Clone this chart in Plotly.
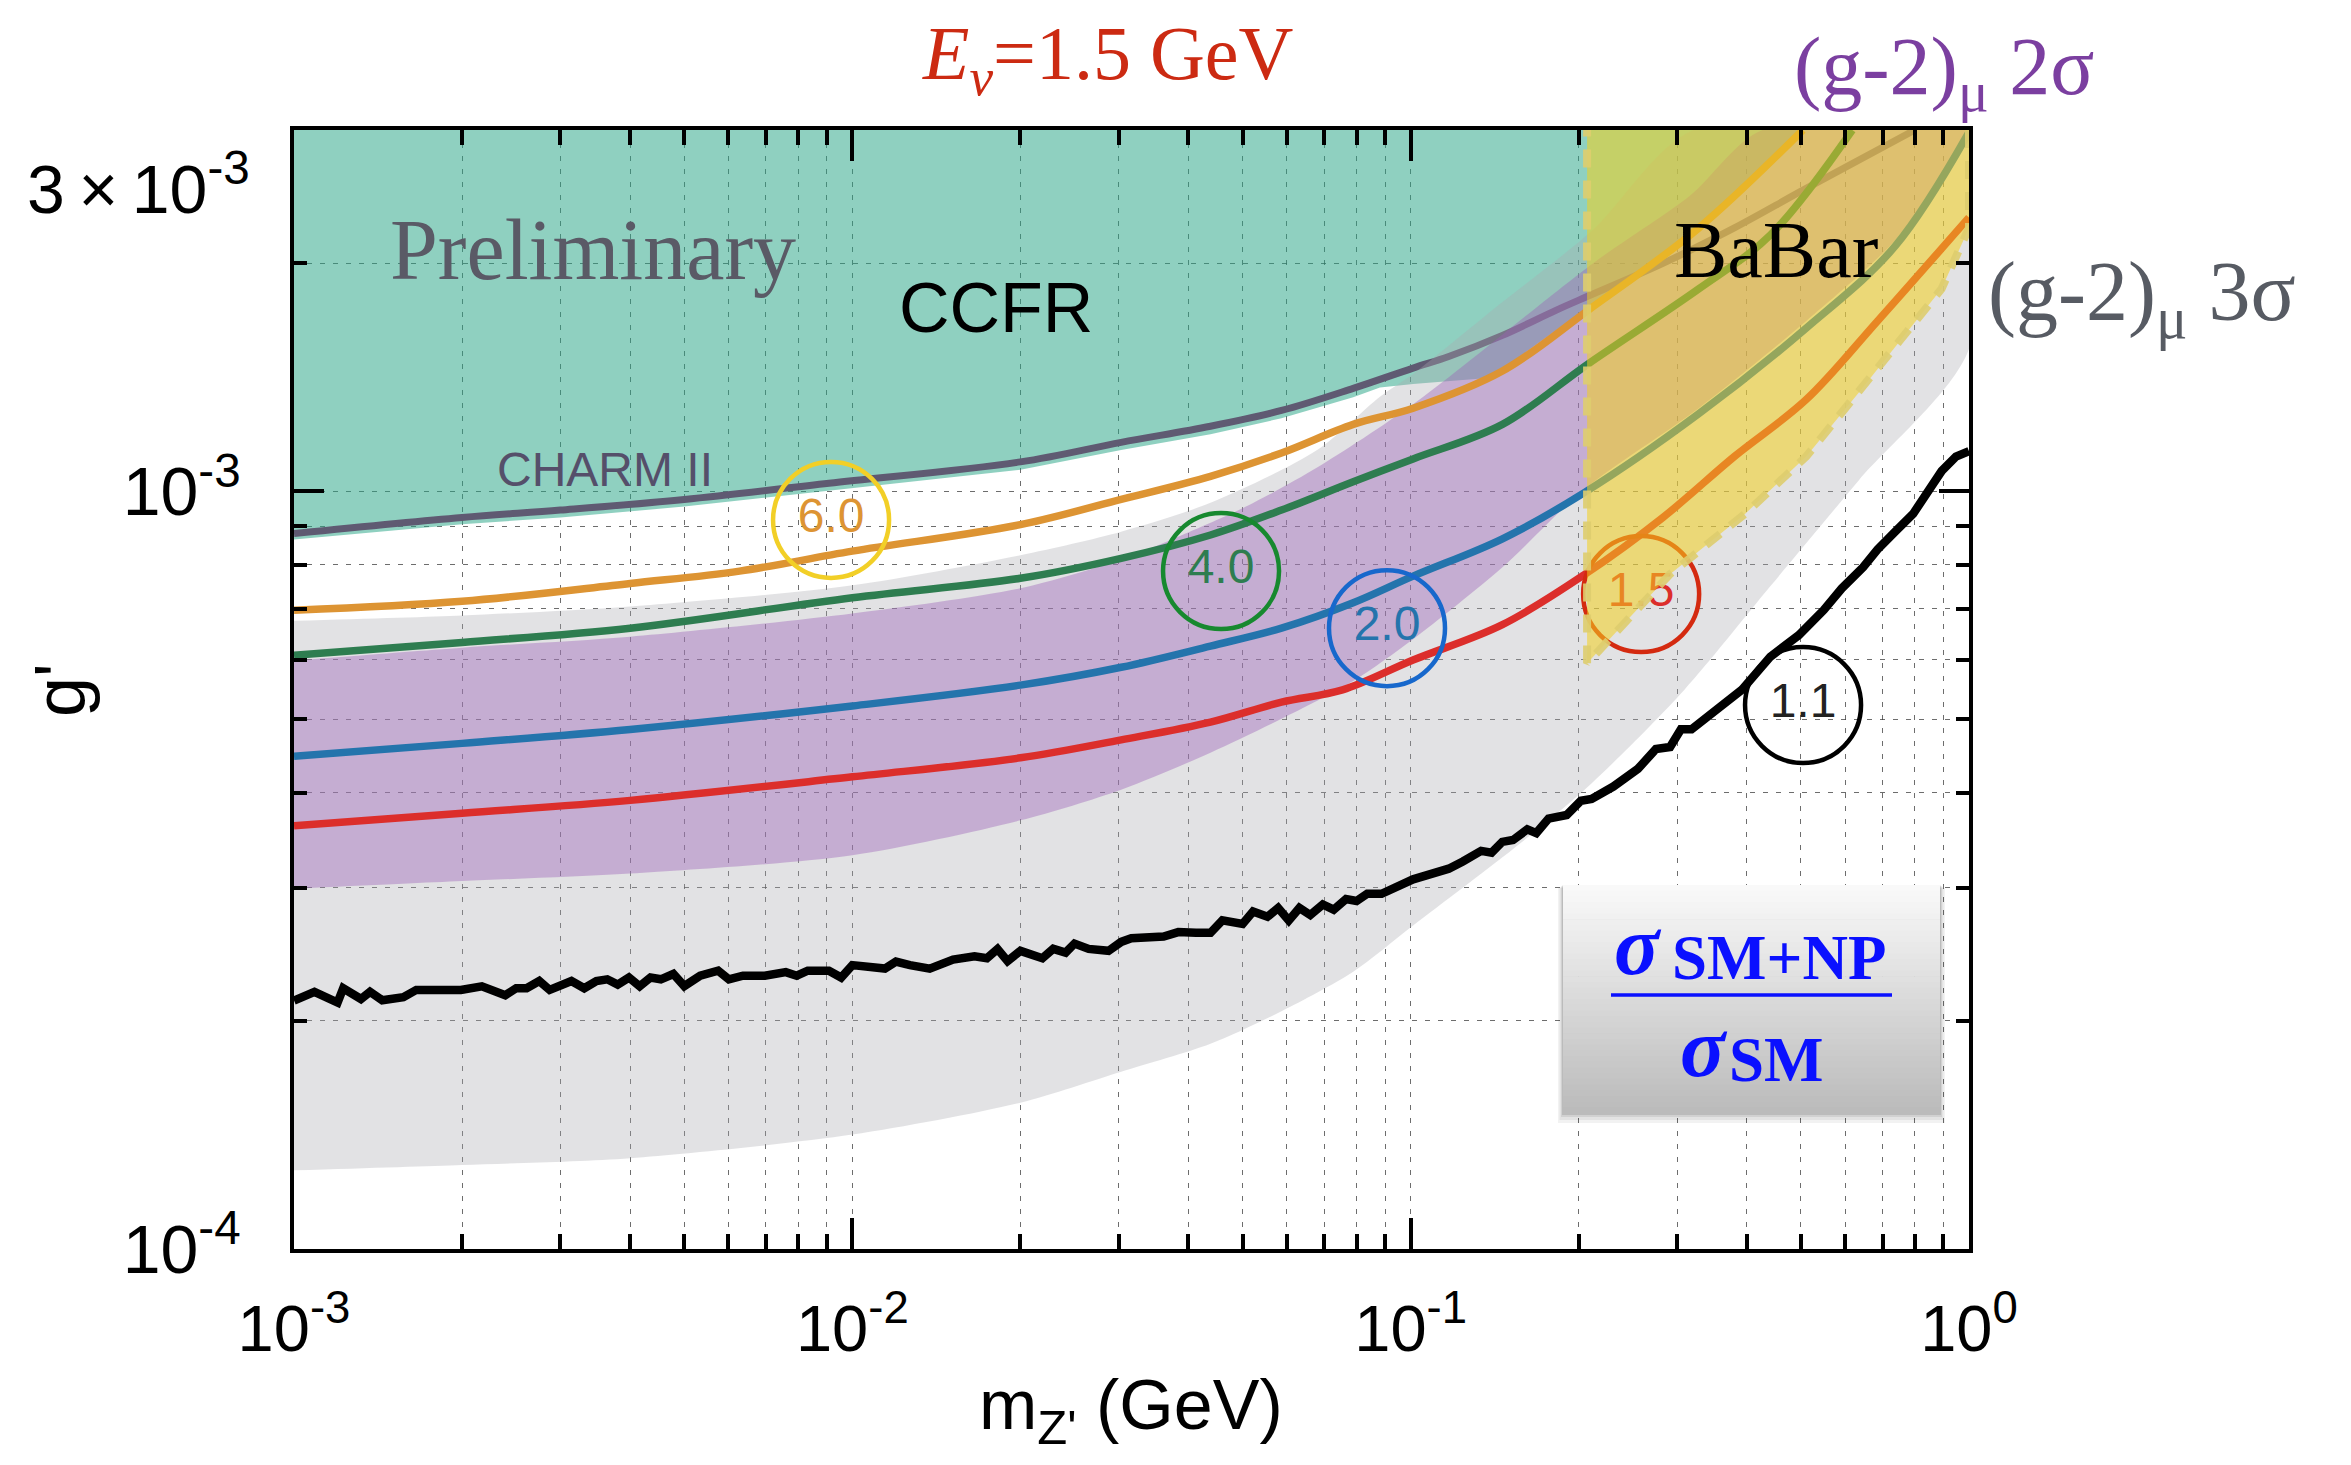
import math
import plotly.graph_objects as go

# ---------------------------------------------------------------- data
X_TICKS = [1e-3, 1e-2, 1e-1, 1.0]
X_TICK_TEXT = ["10<sup>-3</sup>", "10<sup>-2</sup>", "10<sup>-1</sup>", "10<sup>0</sup>"]
X_MINOR = [2e-3, 3e-3, 4e-3, 5e-3, 6e-3, 7e-3, 8e-3, 9e-3,
           2e-2, 3e-2, 4e-2, 5e-2, 6e-2, 7e-2, 8e-2, 9e-2,
           0.2, 0.3, 0.4, 0.5, 0.6, 0.7, 0.8, 0.9]
Y_TICKS = [1e-4, 1e-3, 3e-3]
Y_TICK_TEXT = ["10<sup>-4</sup>", "10<sup>-3</sup>", " "]
Y_TOP_LABEL = "3\u2009×\u200910<sup>-3</sup>"
Y_MINOR = [2e-4, 3e-4, 4e-4, 5e-4, 6e-4, 7e-4, 8e-4, 9e-4, 2e-3]
G_TOP = 3e-3
M_MIN, M_MAX = 1e-3, 1.0

# CHARM II limit (m_Z' [GeV], g')
CHARM_II = [(1e-3, 8.80e-4), (2e-3, 9.24e-4), (3e-3, 9.45e-4), (5e-3, 9.76e-4),
            (9.08e-3, 1.025e-3), (2.0e-2, 1.094e-3), (3.03e-2, 1.161e-3),
            (4.38e-2, 1.219e-3), (5.87e-2, 1.279e-3), (7.89e-2, 1.368e-3),
            (0.101, 1.455e-3), (0.117, 1.507e-3), (0.146, 1.607e-3), (0.182, 1.734e-3),
            (0.208, 1.811e-3), (0.283, 2.0e-3), (0.380, 2.228e-3), (0.511, 2.512e-3),
            (0.80, 3.0e-3)]
# CCFR excluded region, lower edge
CCFR = [(1e-3, 8.64e-4), (2e-3, 9.05e-4), (3e-3, 9.24e-4), (5e-3, 9.55e-4),
        (1e-2, 1.010e-3), (2e-2, 1.068e-3), (3.03e-2, 1.134e-3), (4.38e-2, 1.190e-3),
        (5.87e-2, 1.249e-3), (7.89e-2, 1.331e-3), (8.81e-2, 1.372e-3), (0.101, 1.386e-3),
        (0.134, 1.410e-3), (0.146, 1.452e-3), (0.208, 1.750e-3), (0.328, 2.244e-3),
        (0.50, 3.0e-3)]
# (g-2)_mu 3 sigma band
G2_3S_UP = [(1e-3, 6.75e-4), (2e-3, 6.86e-4), (4e-3, 7.05e-4), (1e-2, 7.52e-4),
            (2e-2, 8.24e-4), (3.03e-2, 8.85e-4), (4.38e-2, 9.66e-4), (6.81e-2, 1.135e-3),
            (8.81e-2, 1.334e-3), (0.101, 1.429e-3), (0.146, 1.778e-3), (0.212, 2.213e-3),
            (0.321, 3.0e-3)]
G2_3S_LO = [(1e-3, 1.27e-4), (2e-3, 1.291e-4), (4e-3, 1.318e-4), (1e-2, 1.416e-4),
            (2e-2, 1.56e-4), (3.03e-2, 1.714e-4), (4.38e-2, 1.866e-4), (5.87e-2, 2.06e-4),
            (7.89e-2, 2.323e-4), (0.101, 2.673e-4), (0.157, 3.43e-4), (0.211, 4.12e-4),
            (0.309, 5.47e-4), (0.441, 7.50e-4), (0.635, 1.035e-3), (1.0, 1.542e-3)]
# (g-2)_mu 2 sigma band
G2_2S_UP = [(1e-3, 5.98e-4), (2e-3, 6.22e-4), (4e-3, 6.43e-4), (1e-2, 6.90e-4),
            (2e-2, 7.45e-4), (3.03e-2, 8.13e-4), (3.77e-2, 8.67e-4), (5.07e-2, 9.55e-4),
            (6.81e-2, 1.076e-3), (0.101, 1.303e-3), (0.212, 2.0e-3), (0.316, 2.455e-3),
            (0.427, 3.0e-3)]
G2_2S_LO = [(1e-3, 2.99e-4), (2e-3, 3.06e-4), (4e-3, 3.13e-4), (1e-2, 3.31e-4),
            (2e-2, 3.68e-4), (3.03e-2, 4.04e-4), (4.38e-2, 4.52e-4), (5.87e-2, 5.01e-4),
            (7.89e-2, 5.62e-4), (0.101, 6.38e-4), (0.146, 7.94e-4), (0.205, 1.008e-3),
            (0.328, 1.288e-3), (0.511, 1.679e-3), (0.738, 2.148e-3), (1.0, 2.951e-3)]
# BaBar excluded region, lower edge
BABAR = [(0.207, 5.93e-4), (0.291, 7.77e-4), (0.397, 9.34e-4), (0.511, 1.112e-3),
         (0.635, 1.351e-3), (0.794, 1.661e-3), (0.893, 1.851e-3), (1.0, 2.228e-3)]
BABAR_LEFT = 0.207

# contours of sigma_SM+NP / sigma_SM
R60 = [(1e-3, 6.97e-4), (2e-3, 7.16e-4), (4e-3, 7.56e-4), (6.28e-3, 7.85e-4), (1e-2, 8.34e-4),
       (2e-2, 9.04e-4), (3.03e-2, 9.76e-4), (4.38e-2, 1.047e-3), (5.87e-2, 1.124e-3),
       (7.89e-2, 1.226e-3), (0.101, 1.288e-3), (0.146, 1.442e-3), (0.208, 1.735e-3),
       (0.328, 2.227e-3), (0.504, 3.0e-3)]
R40 = [(1e-3, 6.08e-4), (2e-3, 6.32e-4), (4e-3, 6.60e-4), (1e-2, 7.24e-4), (2e-2, 7.68e-4),
       (3.03e-2, 8.16e-4), (4.38e-2, 8.76e-4), (5.87e-2, 9.45e-4), (7.89e-2, 1.030e-3),
       (0.101, 1.104e-3), (0.146, 1.226e-3), (0.208, 1.474e-3), (0.328, 1.851e-3),
       (0.441, 2.181e-3), (0.618, 3.0e-3)]
R20 = [(1e-3, 4.47e-4), (2e-3, 4.65e-4), (4e-3, 4.85e-4), (1e-2, 5.21e-4), (2e-2, 5.55e-4),
       (3.03e-2, 5.86e-4), (4.38e-2, 6.25e-4), (5.87e-2, 6.60e-4), (7.89e-2, 7.13e-4),
       (0.101, 7.73e-4), (0.146, 8.66e-4), (0.205, 9.97e-4), (0.328, 1.266e-3),
       (0.511, 1.643e-3), (0.738, 2.109e-3), (1.0, 2.98e-3)]
R15 = [(1e-3, 3.62e-4), (2e-3, 3.76e-4), (4e-3, 3.91e-4), (1e-2, 4.20e-4), (2e-2, 4.45e-4),
       (3.03e-2, 4.70e-4), (4.38e-2, 4.96e-4), (5.87e-2, 5.27e-4), (7.55e-2, 5.47e-4),
       (0.101, 5.99e-4), (0.146, 6.67e-4), (0.205, 7.77e-4), (0.283, 9.24e-4),
       (0.380, 1.112e-3), (0.511, 1.322e-3), (0.686, 1.679e-3), (1.0, 2.30e-3)]
R11 = [(1.0e-3, 2.128e-4), (1.088e-3, 2.185e-4), (1.197e-3, 2.115e-4), (1.225e-3, 2.209e-4),
       (1.318e-3, 2.138e-4), (1.368e-3, 2.185e-4), (1.439e-3, 2.13e-4), (1.57e-3, 2.15e-4),
       (1.656e-3, 2.198e-4), (1.99e-3, 2.198e-4), (2.17e-3, 2.222e-4), (2.39e-3, 2.163e-4),
       (2.50e-3, 2.209e-4), (2.61e-3, 2.209e-4), (2.75e-3, 2.258e-4), (2.87e-3, 2.198e-4),
       (3.14e-3, 2.258e-4), (3.31e-3, 2.209e-4), (3.48e-3, 2.258e-4), (3.64e-3, 2.27e-4),
       (3.80e-3, 2.234e-4), (3.98e-3, 2.282e-4), (4.16e-3, 2.222e-4), (4.35e-3, 2.282e-4),
       (4.54e-3, 2.27e-4), (4.78e-3, 2.307e-4), (5.0e-3, 2.223e-4), (5.34e-3, 2.295e-4),
       (5.75e-3, 2.33e-4), (6.01e-3, 2.27e-4), (6.37e-3, 2.295e-4), (6.97e-3, 2.295e-4),
       (7.6e-3, 2.32e-4), (7.95e-3, 2.295e-4), (8.32e-3, 2.33e-4), (9.08e-3, 2.33e-4),
       (9.55e-3, 2.282e-4), (1.0e-2, 2.37e-4), (1.144e-2, 2.345e-4), (1.197e-2, 2.395e-4),
       (1.268e-2, 2.37e-4), (1.376e-2, 2.345e-4), (1.515e-2, 2.41e-4), (1.655e-2, 2.435e-4),
       (1.742e-2, 2.42e-4), (1.82e-2, 2.489e-4), (1.897e-2, 2.399e-4), (2.0e-2, 2.475e-4),
       (2.19e-2, 2.42e-4), (2.29e-2, 2.49e-4), (2.41e-2, 2.462e-4), (2.5e-2, 2.53e-4),
       (2.65e-2, 2.49e-4), (2.876e-2, 2.475e-4), (3.03e-2, 2.543e-4), (3.16e-2, 2.571e-4),
       (3.61e-2, 2.585e-4), (3.835e-2, 2.62e-4), (4.125e-2, 2.614e-4), (4.38e-2, 2.614e-4),
       (4.6e-2, 2.715e-4), (5.0e-2, 2.686e-4), (5.22e-2, 2.79e-4), (5.54e-2, 2.745e-4),
       (5.79e-2, 2.82e-4), (6.05e-2, 2.715e-4), (6.32e-2, 2.82e-4), (6.61e-2, 2.76e-4),
       (6.96e-2, 2.85e-4), (7.28e-2, 2.805e-4), (7.66e-2, 2.897e-4), (8.0e-2, 2.88e-4),
       (8.36e-2, 2.944e-4), (8.87e-2, 2.944e-4), (0.101, 3.076e-4), (0.117, 3.177e-4),
       (0.124, 3.248e-4), (0.1337, 3.354e-4), (0.1396, 3.336e-4), (0.1459, 3.447e-4),
       (0.1525, 3.466e-4), (0.1618, 3.581e-4), (0.1679, 3.54e-4), (0.1766, 3.70e-4),
       (0.1903, 3.74e-4), (0.2018, 3.905e-4), (0.2109, 3.927e-4), (0.2307, 4.078e-4),
       (0.2554, 4.305e-4), (0.2749, 4.57e-4), (0.2915, 4.598e-4), (0.3048, 4.853e-4),
       (0.3185, 4.853e-4), (0.3428, 5.07e-4), (0.364, 5.236e-4), (0.3917, 5.47e-4),
       (0.4406, 6.05e-4), (0.4955, 6.46e-4), (0.5495, 6.975e-4), (0.5916, 7.447e-4),
       (0.6463, 7.943e-4), (0.6855, 8.383e-4), (0.7379, 8.851e-4), (0.7943, 9.343e-4),
       (0.8424, 9.972e-4), (0.8933, 1.064e-3), (0.9478, 1.112e-3), (1.0, 1.13e-3)]

RATIO_TEXT = ["6.0", "4.0", "2.0", "1.5", "1.1"]
RATIO_M = [9.16e-3, 4.575e-2, 9.07e-2, 0.2587, 0.5044]
RATIO_G = [9.17e-4, 7.85e-4, 6.60e-4, 7.32e-4, 5.224e-4]

# ---------------------------------------------------------------- styles
W, H = 2351, 1465          # browser window
OFF = 8                    # default body margin of the html page
FW, FH = W - 2 * OFF, H - 2 * OFF
PL, PR, PT, PB = 294, 1969, 130, 1249   # plot area in page pixels
SERIF = "Liberation Serif, Times New Roman, serif"
SANS = "Liberation Sans, Arial, Helvetica, sans-serif"
LINE_COLORS = ["#dd9433", "#2e7d50", "#2474ac", "#dc2e2b", "#000000"]
CIRCLE_COLORS = ["#f2cf27", "#17892f", "#1768cc", "#d42a10", "#000000"]
TEXT_COLORS = ["#dd9433", "#2e7d50", "#2474ac", "#dc2e2b", "#222222"]
GRID = dict(showgrid=True, gridcolor="rgba(60,60,60,0.75)", gridwidth=1.2, griddash="5px,8px")


def xs(p):
    return [a for a, _ in p]


def ys(p):
    return [b for _, b in p]


def px(X):
    return (X - PL) / (PR - PL)


def py(Y):
    return (PB - Y) / (PB - PT)


fig = go.Figure()


def fill(xv, yv, color, shape="spline"):
    fig.add_trace(go.Scatter(x=xv, y=yv, mode="lines", fill="toself", fillcolor=color,
                             line=dict(width=0, shape=shape, smoothing=0.8),
                             hoverinfo="skip", showlegend=False))


def curve(p, color, width, shape="spline"):
    fig.add_trace(go.Scatter(x=xs(p), y=ys(p), mode="lines",
                             line=dict(color=color, width=width, shape=shape, smoothing=1.0),
                             hoverinfo="skip", showlegend=False))


# CCFR
fill([M_MIN] + xs(CCFR), [G_TOP] + ys(CCFR), "rgba(40,165,134,0.52)", shape="linear")
# CHARM II
curve(CHARM_II, "#5f5a72", 7)
# (g-2) bands
fill(xs(G2_3S_UP) + [M_MAX] + xs(G2_3S_LO)[::-1],
     ys(G2_3S_UP) + [G_TOP] + ys(G2_3S_LO)[::-1], "rgba(170,170,176,0.34)")
fill(xs(G2_2S_UP) + [M_MAX] + xs(G2_2S_LO)[::-1],
     ys(G2_2S_UP) + [G_TOP] + ys(G2_2S_LO)[::-1], "rgba(156,96,183,0.40)")
# ratio contours
for pts, col in zip([R60, R40, R20, R15], LINE_COLORS[:4]):
    curve(pts, col, 7.5)
curve(R11, LINE_COLORS[4], 8.5, shape="linear")
# circled labels
for i in range(len(RATIO_TEXT)):
    fig.add_trace(go.Scatter(
        x=[RATIO_M[i]], y=[RATIO_G[i]], mode="markers+text", text=[RATIO_TEXT[i]],
        textposition="middle center",
        textfont=dict(family=SANS, size=48, color=TEXT_COLORS[i]),
        marker=dict(symbol="circle-open", size=116, color=CIRCLE_COLORS[i],
                    line=dict(width=4.5, color=CIRCLE_COLORS[i])),
        hoverinfo="skip", showlegend=False))
# BaBar
fill([BABAR_LEFT] + xs(BABAR) + [M_MAX], [G_TOP] + ys(BABAR) + [G_TOP],
     "rgba(243,207,30,0.55)", shape="linear")
fig.add_trace(go.Scatter(x=[M_MAX] + xs(BABAR)[::-1] + [BABAR_LEFT],
                         y=[G_TOP] + ys(BABAR)[::-1] + [G_TOP], mode="lines",
                         line=dict(color="rgba(222,205,110,0.9)", width=8, dash="18px,13px"),
                         hoverinfo="skip", showlegend=False))

# ---------------------------------------------------------------- inset box
shapes = []
bx0, bx1, by0, by1 = 1563, 1940, 885, 1113
for k, a in [(10, 0.05), (7, 0.06), (4, 0.08), (2, 0.10)]:
    shapes.append(dict(type="rect", xref="paper", yref="paper", layer="above",
                       x0=px(bx0 - k * 0.5), x1=px(bx1 + k * 0.5), y0=py(by1 + k), y1=py(by0 + k * 0.3),
                       line=dict(width=0), fillcolor=f"rgba(0,0,0,{a})"))
N = 40
for i in range(N):
    t = i / (N - 1)
    c = int(round(249 - t * (249 - 187)))
    y0 = by0 + (by1 - by0) * i / N
    y1 = by0 + (by1 - by0) * (i + 1) / N + 0.6
    shapes.append(dict(type="rect", xref="paper", yref="paper", layer="above",
                       x0=px(bx0), x1=px(bx1), y0=py(min(y1, by1)), y1=py(y0),
                       line=dict(width=0), fillcolor=f"rgb({c},{c},{c})"))
shapes.append(dict(type="line", xref="paper", yref="paper", layer="above",
                   x0=px(1611), x1=px(1892), y0=py(995), y1=py(995),
                   line=dict(color="#0a10ff", width=3.5)))

# ---------------------------------------------------------------- annotations
ann = []


def label(text, X, Y, size, color, family, angle=0, xanchor="center", yanchor="middle"):
    ann.append(dict(text=text, x=px(X), y=py(Y), xref="paper", yref="paper",
                    xanchor=xanchor, yanchor=yanchor, showarrow=False, textangle=angle,
                    font=dict(size=size, color=color, family=family)))


label("<i>E</i><sub><i>ν</i></sub>=1.5 GeV", 1108, 9, 76, "#cc2a12", SERIF, yanchor="top")
label("(g-2)<sub>μ</sub> 2σ", 1944, 72, 82, "#7b3fa0", SERIF)
label("(g-2)<sub>μ</sub> 3σ", 2142, 298, 84, "#575b63", SERIF)
label("Preliminary", 593, 250, 86, "#5a5a66", SERIF)
label("CCFR", 996, 308, 70, "#000000", SANS)
label("BaBar", 1776, 250, 80, "#000000", SERIF)
label("CHARM II", 605, 469, 48, "#554f6a", SANS)
label("m<sub>Z'</sub> (GeV)", 1131, 1410, 70, "#000000", SANS)
label("g'", 60, 690, 72, "#000000", SANS, angle=-90)
label(Y_TOP_LABEL, 252, 184, 68, "#000000", SANS, xanchor="right")
label("<b><i>σ</i></b>", 1638, 945, 84, "#0a10ff", SERIF)
label("<b>SM+NP</b>", 1779, 958, 63, "#0a10ff", SERIF)
label("<b><i>σ</i></b>", 1704, 1047, 84, "#0a10ff", SERIF)
label("<b>SM</b>", 1776, 1060, 63, "#0a10ff", SERIF)

axis_common = dict(type="log", showline=True, linecolor="black", linewidth=3.5, mirror="ticks",
                   ticks="inside", tickwidth=3.5, tickcolor="black", zeroline=False, **GRID)

fig.update_layout(
    width=FW, height=FH, autosize=False,
    margin=dict(l=PL - OFF, r=(OFF + FW) - PR, t=PT - OFF, b=(OFF + FH) - PB, pad=0),
    paper_bgcolor="white", plot_bgcolor="white", showlegend=False,
    xaxis=dict(range=[math.log10(M_MIN), math.log10(M_MAX)], tickmode="array",
               tickvals=X_TICKS, ticktext=X_TICK_TEXT, ticklen=31, ticklabelstandoff=20,
               tickfont=dict(family=SANS, size=65, color="black"),
               minor=dict(tickmode="array", tickvals=X_MINOR, ticks="inside", ticklen=15,
                          tickwidth=3.5, tickcolor="black", **GRID),
               **axis_common),
    yaxis=dict(range=[-4, math.log10(G_TOP) + 1e-6], tickmode="array",
               tickvals=Y_TICKS, ticktext=Y_TICK_TEXT, ticklen=30, ticklabelstandoff=36,
               tickfont=dict(family=SANS, size=68, color="black"),
               minor=dict(tickmode="array", tickvals=Y_MINOR, ticks="inside", ticklen=13,
                          tickwidth=3.5, tickcolor="black", **GRID),
               **axis_common),
    shapes=shapes, annotations=ann,
)

fig.write_html("out.html")
